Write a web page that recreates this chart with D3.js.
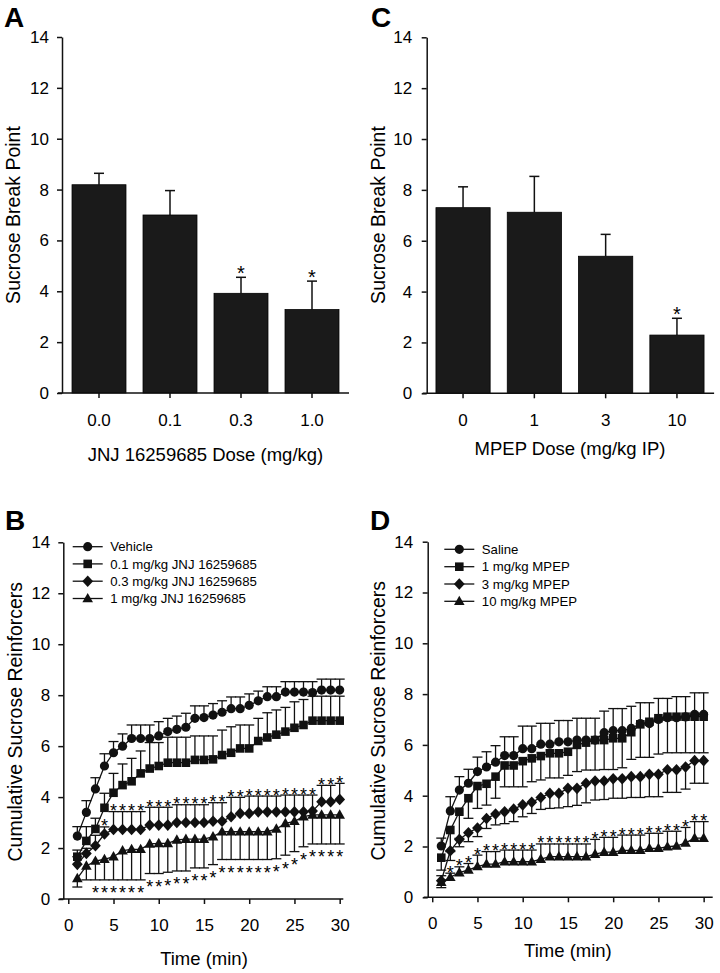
<!DOCTYPE html>
<html><head><meta charset="utf-8">
<script src="https://cdn.jsdelivr.net/npm/d3@7"></script>
<style>
body{margin:0;background:#fff}
svg{display:block}
text{font-family:"Liberation Sans",Arial,Helvetica,sans-serif;fill:#000}
</style>
</head><body>
<svg id="c" width="720" height="973"></svg>
<script>
// ---------------- DATA ----------------
// Panel A
const doseA = ["0.0", "0.1", "0.3", "1.0"];
const breakA = [8.19, 7.00, 3.92, 3.28];
const breakAHi = [8.64, 7.96, 4.55, 4.40];
const starA = [false, false, true, true];
// Panel C
const doseC = ["0", "1", "3", "10"];
const breakC = [7.30, 7.12, 5.39, 2.29];
const breakCHi = [8.12, 8.53, 6.25, 2.95];
const starC = [false, false, false, true];

const yTicks = [0, 2, 4, 6, 8, 10, 12, 14];
const timeTicks = [0, 5, 10, 15, 20, 25, 30];
const minutes = [1,2,3,4,5,6,7,8,9,10,11,12,13,14,15,16,17,18,19,20,21,22,23,24,25,26,27,28,29,30];

// Panel B
const vehicleB   = [2.47,3.40,4.32,5.22,5.74,6.00,6.30,6.30,6.30,6.40,6.57,6.66,6.74,7.09,7.12,7.22,7.33,7.47,7.47,7.60,7.78,7.94,7.94,8.12,8.12,8.12,8.10,8.20,8.20,8.20];
const vehicleBHi = [2.84,3.86,4.76,5.70,6.18,6.48,6.83,6.83,6.83,6.96,7.09,7.18,7.29,7.58,7.58,7.67,7.78,7.93,7.93,8.05,8.16,8.33,8.33,8.53,8.53,8.53,8.53,8.63,8.63,8.63];
const jnj01B     = [1.66,2.28,2.75,3.58,4.17,4.47,4.62,4.93,5.12,5.22,5.35,5.35,5.35,5.46,5.46,5.48,5.65,5.74,5.91,5.91,6.20,6.34,6.45,6.57,6.72,6.83,7.00,7.00,7.00,7.00];
const jnj01BHi   = [1.92,2.84,3.17,4.15,4.93,5.30,5.52,5.81,6.14,6.14,6.35,6.35,6.35,6.40,6.40,6.40,6.63,6.76,6.83,6.83,7.09,7.31,7.42,7.52,7.74,7.83,7.96,7.96,7.96,7.96];
const jnj03B     = [1.36,1.79,2.09,2.55,2.73,2.73,2.73,2.73,2.90,2.90,2.90,3.00,3.00,3.00,3.00,3.05,3.05,3.23,3.36,3.36,3.42,3.42,3.42,3.42,3.42,3.42,3.45,3.82,3.82,3.91];
const jnj03BHi   = [1.66,1.99,2.50,2.83,3.43,3.43,3.43,3.43,3.60,3.60,3.60,3.70,3.70,3.70,3.70,3.78,3.78,3.99,3.99,4.04,4.04,4.04,4.04,4.08,4.08,4.08,4.08,4.46,4.46,4.54];
const jnj03BStars = [4,5,6,7,8,9,10,11,12,13,14,15,16,17,18,19,20,21,22,23,24,25,26,27,28,29,30];
const jnj1B      = [0.81,1.30,1.49,1.56,1.66,1.90,1.95,1.95,2.16,2.18,2.18,2.32,2.35,2.35,2.35,2.45,2.64,2.64,2.64,2.64,2.64,2.64,2.75,2.97,3.05,3.23,3.30,3.30,3.30,3.30];
const jnj1BLo    = [0.47,0.75,0.75,0.75,0.75,0.75,0.75,0.75,1.00,1.00,1.05,1.10,1.10,1.22,1.22,1.35,1.55,1.55,1.55,1.55,1.55,1.55,1.58,1.72,1.86,2.05,2.16,2.16,2.16,2.16];
const jnj1BStars = [3,4,5,6,7,8,9,10,11,12,13,14,15,16,17,18,19,20,21,22,23,24,25,26,27,28,29,30];
const legendB = ["Vehicle", "0.1 mg/kg JNJ 16259685", "0.3 mg/kg JNJ 16259685", "1 mg/kg JNJ 16259685"];

// Panel D
const salineD    = [2.02,3.40,4.22,4.49,4.95,5.13,5.32,5.58,5.58,5.85,5.85,6.03,6.03,6.12,6.12,6.19,6.19,6.19,6.48,6.56,6.56,6.65,6.84,6.84,7.00,7.07,7.07,7.10,7.20,7.20];
const salineDHi  = [2.33,3.96,4.75,5.04,5.52,5.73,5.97,6.32,6.32,6.74,6.74,6.85,6.85,6.96,6.96,7.05,7.05,7.05,7.33,7.43,7.43,7.52,7.66,7.66,7.83,7.83,7.90,7.90,8.05,8.05];
const mpep1D     = [1.56,2.65,3.37,3.90,4.38,4.47,4.75,5.19,5.19,5.36,5.47,5.56,5.67,5.67,5.73,6.00,6.09,6.19,6.19,6.26,6.26,6.50,6.81,6.91,7.05,7.11,7.11,7.11,7.11,7.11];
const mpep1DLo   = [1.07,1.80,2.32,3.11,3.50,3.63,3.90,4.35,4.35,4.35,4.55,4.62,4.70,4.70,4.80,4.95,5.01,5.01,5.03,5.03,5.10,5.43,5.51,5.51,5.64,5.69,5.69,5.69,5.69,5.69];
const mpep3D     = [0.65,1.83,2.28,2.54,2.73,3.10,3.28,3.37,3.47,3.64,3.74,3.93,4.09,4.09,4.29,4.29,4.49,4.58,4.58,4.67,4.67,4.75,4.75,4.84,4.84,5.02,5.02,5.13,5.38,5.38];
const mpep3DLo   = [0.38,1.45,1.99,2.19,2.39,2.71,2.85,2.90,2.98,3.17,3.30,3.46,3.50,3.52,3.57,3.62,3.72,3.83,3.85,3.90,3.90,3.93,3.93,3.96,3.96,4.13,4.13,4.26,4.49,4.49];
const mpep10D    = [0.59,0.79,0.97,1.08,1.21,1.31,1.31,1.40,1.40,1.40,1.40,1.50,1.60,1.60,1.60,1.60,1.60,1.70,1.78,1.78,1.85,1.85,1.85,1.93,1.93,1.99,2.02,2.14,2.33,2.33];
const mpep10DHi  = [0.85,0.95,1.20,1.33,1.66,1.80,1.80,1.86,1.86,1.86,1.86,2.10,2.10,2.10,2.10,2.10,2.10,2.28,2.36,2.36,2.45,2.45,2.45,2.52,2.52,2.60,2.60,2.75,2.98,2.98];
const mpep10DStars = [2,3,4,5,6,7,8,9,10,11,12,13,14,15,16,17,18,19,20,21,22,23,24,25,26,27,28,29,30];
const legendD = ["Saline", "1 mg/kg MPEP", "3 mg/kg MPEP", "10 mg/kg MPEP"];

// ---------------- DRAWING ----------------
const svg = d3.select("#c");
const INK = "#111";

function markerPath(type, cx, cy) {
  const p = d3.path();
  if (type === "circle") {
    p.moveTo(cx + 4.6, cy); p.arc(cx, cy, 4.6, 0, 2 * Math.PI);
  } else if (type === "square") {
    p.rect(cx - 4.3, cy - 4.3, 8.6, 8.6);
  } else if (type === "diamond") {
    p.moveTo(cx, cy - 5.8); p.lineTo(cx + 5.4, cy); p.lineTo(cx, cy + 5.8); p.lineTo(cx - 5.4, cy); p.closePath();
  } else {
    p.moveTo(cx, cy - 5.6); p.lineTo(cx + 5.3, cy + 3.8); p.lineTo(cx - 5.3, cy + 3.8); p.closePath();
  }
  return p.toString();
}

function styleAxis(g, fs) {
  g.attr("font-family", null).attr("font-size", null);
  g.selectAll("text").attr("font-size", fs).attr("fill", "#000");
  g.selectAll("line").attr("stroke", INK).attr("stroke-width", 1.5);
  g.selectAll("path").attr("stroke", INK).attr("stroke-width", 1.5);
}

function panelLetter(letter, x, y) {
  svg.append("text").attr("x", x).attr("y", y).attr("font-size", 28).attr("font-weight", "bold").text(letter);
}

function yTitle(txt, x, cy, fs) {
  svg.append("text").attr("transform", `translate(${x},${cy}) rotate(-90)`)
    .attr("text-anchor", "middle").attr("font-size", fs).text(txt);
}

function barPanel(o) {
  const y = d3.scaleLinear().domain([0, 14]).range([o.y0, o.y14]);
  const x = d3.scaleBand().domain(o.cats).range(o.band).paddingInner(0.24).paddingOuter(0.12);
  const g = svg.append("g");
  // error bars
  o.cats.forEach((c, i) => {
    const cx = x(c) + x.bandwidth() / 2;
    g.append("line").attr("x1", cx).attr("x2", cx).attr("y1", y(o.vals[i])).attr("y2", y(o.hi[i]))
      .attr("stroke", INK).attr("stroke-width", 1.5);
    g.append("line").attr("x1", cx - 5).attr("x2", cx + 5).attr("y1", y(o.hi[i])).attr("y2", y(o.hi[i]))
      .attr("stroke", INK).attr("stroke-width", 1.5);
    if (o.stars[i]) {
      g.append("text").attr("x", cx).attr("y", y(o.hi[i]) + 3).attr("text-anchor", "middle")
        .attr("font-size", 20).text("*");
    }
  });
  g.selectAll("rect").data(o.cats).join("rect")
    .attr("x", c => x(c)).attr("width", x.bandwidth())
    .attr("y", (c, i) => y(o.vals[i])).attr("height", (c, i) => y(0) - y(o.vals[i]))
    .attr("fill", "#1a1a1a").attr("stroke", "#000").attr("stroke-width", 0.8);
  // axes
  const ya = svg.append("g").attr("transform", `translate(${o.ax},0)`)
    .call(d3.axisLeft(y).tickValues(yTicks).tickSize(5).tickPadding(o.yPad).tickSizeOuter(0));
  styleAxis(ya, 17);
  const xa = svg.append("g").attr("transform", `translate(0,${o.y0})`)
    .call(d3.axisBottom(x).tickSize(5).tickPadding(16).tickSizeOuter(0));
  xa.select(".domain").remove();
  styleAxis(xa, 17);
  svg.append("line").attr("x1", o.ax - 4).attr("x2", o.band[1] + 1.5).attr("y1", o.y0).attr("y2", o.y0)
    .attr("stroke", INK).attr("stroke-width", 1.5);
  svg.append("text").attr("x", (o.band[0] + o.band[1]) / 2).attr("y", o.xtY).attr("text-anchor", "middle")
    .attr("font-size", 18.5).text(o.xTitle);
}

function linePanel(o) {
  const y = d3.scaleLinear().domain([0, 14]).range([o.y0, o.y14]);
  const x = d3.scaleLinear().domain(o.xdom).range(o.xr);
  const g = svg.append("g");
  const line = d3.line().x((d, i) => x(minutes[i])).y(d => y(d));
  // error bars & stars
  o.series.forEach(s => {
    s.vals.forEach((v, i) => {
      const cx = x(minutes[i]);
      const e = s.err[i];
      g.append("line").attr("x1", cx).attr("x2", cx).attr("y1", y(v)).attr("y2", y(e))
        .attr("stroke", INK).attr("stroke-width", 1.3);
      g.append("line").attr("x1", cx - 5).attr("x2", cx + 5).attr("y1", y(e)).attr("y2", y(e))
        .attr("stroke", INK).attr("stroke-width", 1.3);
    });
    if (s.stars) {
      s.stars.forEach(t => {
        const i = minutes.indexOf(t);
        const cy = y(s.err[i]);
        g.append("text").attr("x", x(t)).attr("y", s.starPos === "above" ? cy + 5.5 : cy + 19.5)
          .attr("text-anchor", "middle").attr("font-size", 18).text("*");
      });
    }
  });
  o.series.forEach(s => {
    g.append("path").attr("d", line(s.vals)).attr("fill", "none").attr("stroke", INK).attr("stroke-width", 1.3);
  });
  o.series.forEach(s => {
    s.vals.forEach((v, i) => {
      g.append("path").attr("d", markerPath(s.marker, x(minutes[i]), y(v))).attr("fill", INK);
    });
  });
  // legend
  o.series.forEach((s, k) => {
    const ly = o.legY[k];
    svg.append("line").attr("x1", o.legX).attr("x2", o.legX + 30).attr("y1", ly).attr("y2", ly)
      .attr("stroke", INK).attr("stroke-width", 1.3);
    svg.append("path").attr("d", markerPath(s.marker, o.legX + 15, ly)).attr("fill", INK);
    svg.append("text").attr("x", o.legX + 37.5).attr("y", ly).attr("dy", "0.35em").attr("font-size", 13.2).text(s.name);
  });
  // axes
  const ya = svg.append("g").attr("transform", `translate(${o.xr[0]},0)`)
    .call(d3.axisLeft(y).tickValues(yTicks).tickSize(5).tickPadding(o.yPad).tickSizeOuter(0));
  styleAxis(ya, 17);
  const xa = svg.append("g").attr("transform", `translate(0,${o.y0})`)
    .call(d3.axisBottom(x).tickValues(timeTicks).tickSize(5).tickPadding(15).tickSizeOuter(0));
  xa.select(".domain").remove();
  styleAxis(xa, 17);
  svg.append("line").attr("x1", o.xr[0] - 4).attr("x2", o.xr[1]).attr("y1", o.y0).attr("y2", o.y0)
    .attr("stroke", INK).attr("stroke-width", 1.5);
  svg.append("text").attr("x", (x(0) + x(30)) / 2).attr("y", o.xtY).attr("text-anchor", "middle")
    .attr("font-size", 18.5).text("Time (min)");
}

// Panel A
panelLetter("A", 4, 26.7);
barPanel({cats: doseA, vals: breakA, hi: breakAHi, stars: starA, y0: 393, y14: 37, band: [63.5, 347.5], ax: 62,
  yPad: 8, xtY: 460.6, xTitle: "JNJ 16259685 Dose (mg/kg)"});
yTitle("Sucrose Break Point", 19.5, 215, 19.5);

// Panel C
panelLetter("C", 371, 26.7);
barPanel({cats: doseC, vals: breakC, hi: breakCHi, stars: starC, y0: 393.3, y14: 37.3, band: [427.4, 712.6], ax: 426.7,
  yPad: 9.5, xtY: 455, xTitle: "MPEP Dose (mg/kg IP)"});
yTitle("Sucrose Break Point", 384.5, 215, 19.5);

// Panel B
panelLetter("B", 5, 530);
linePanel({
  y0: 899, y14: 542.3, xdom: [-0.55, 30.4], xr: [63.3, 343.3], yPad: 8, xtY: 965,
  legX: 72.7, legY: [546.7, 563.9, 581.2, 598.5],
  series: [
    {name: legendB[0], vals: vehicleB, err: vehicleBHi, marker: "circle"},
    {name: legendB[1], vals: jnj01B, err: jnj01BHi, marker: "square"},
    {name: legendB[2], vals: jnj03B, err: jnj03BHi, marker: "diamond", stars: jnj03BStars, starPos: "above"},
    {name: legendB[3], vals: jnj1B, err: jnj1BLo, marker: "triangle", stars: jnj1BStars, starPos: "below"}
  ]
});
yTitle("Cumulative Sucrose Reinforcers", 21.5, 721.7, 19.5);

// Panel D
panelLetter("D", 370, 530);
linePanel({
  y0: 897.3, y14: 541.7, xdom: [-0.5, 31], xr: [427.7, 712.7], yPad: 9.5, xtY: 957,
  legX: 444.3, legY: [549.3, 566.7, 584, 601.3],
  series: [
    {name: legendD[0], vals: salineD, err: salineDHi, marker: "circle"},
    {name: legendD[1], vals: mpep1D, err: mpep1DLo, marker: "square"},
    {name: legendD[2], vals: mpep3D, err: mpep3DLo, marker: "diamond"},
    {name: legendD[3], vals: mpep10D, err: mpep10DHi, marker: "triangle", stars: mpep10DStars, starPos: "above"}
  ]
});
yTitle("Cumulative Sucrose Reinforcers", 385, 720.8, 19.5);
</script>
</body></html>
